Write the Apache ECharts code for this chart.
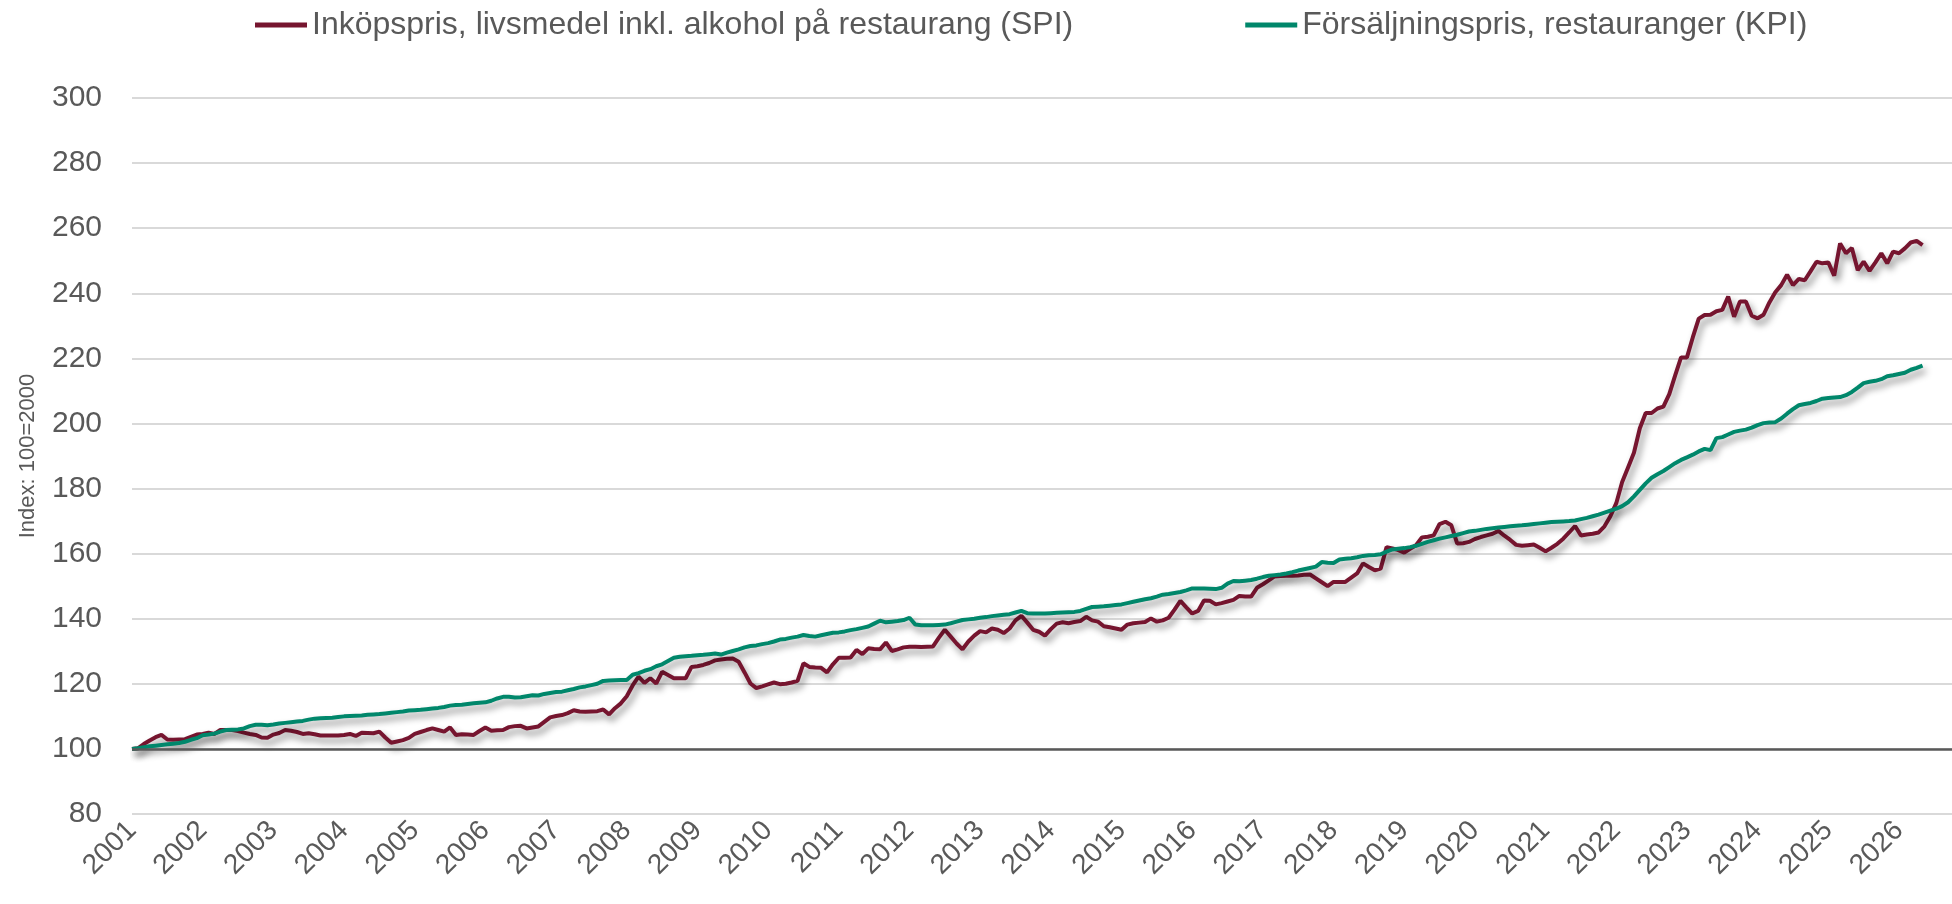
<!DOCTYPE html>
<html>
<head>
<meta charset="utf-8">
<title>Inköpspris och försäljningspris, restauranger</title>
<script src="https://cdn.jsdelivr.net/npm/echarts@6/dist/echarts.min.js"></script>
<style>
  html, body { margin: 0; padding: 0; background: #fff; }
  #chart { width: 1952px; height: 904px; }
</style>
</head>
<body>
<div id="chart"></div>
<script>
// månadsvärden från jan 2001, index 100 = 2000
const startYear = 2001;
const axisMonths = 310; // axeln går några månader förbi sista värdet

const spi = [
  100.0, 100.2, 101.5, 102.6, 103.6, 104.3, 102.9, 102.8, 102.9, 103.0,
  103.7, 104.4, 104.6, 105.0, 104.6, 105.8, 105.8, 105.8, 105.5, 105.0,
  104.6, 104.3, 103.5, 103.4, 104.4, 104.9, 105.8, 105.6, 105.2, 104.6,
  104.8, 104.5, 104.1, 104.1, 104.1, 104.1, 104.3, 104.6, 104.0, 105.0,
  104.9, 104.8, 105.3, 103.5, 101.9, 102.3, 102.7, 103.4, 104.6, 105.2,
  105.8, 106.3, 105.8, 105.3, 106.6, 104.3, 104.5, 104.4, 104.3, 105.5,
  106.6, 105.6, 105.7, 105.8, 106.7, 107.0, 107.1, 106.3, 106.6, 106.9,
  108.3, 109.7, 110.1, 110.4, 111.0, 111.9, 111.5, 111.4, 111.5, 111.6,
  112.1, 110.6, 112.5, 114.0, 116.2, 119.5, 122.2, 120.3, 121.7, 120.1,
  123.7, 122.7, 121.7, 121.7, 121.7, 125.2, 125.4, 125.8, 126.4, 127.2,
  127.5, 127.7, 127.8, 126.8, 123.5, 120.1, 118.7, 119.2, 119.8, 120.4,
  119.9, 120.0, 120.4, 120.9, 126.3, 125.2, 125.0, 124.9, 123.5, 126.0,
  128.0, 128.0, 128.1, 130.4, 129.1, 130.9, 130.7, 130.6, 132.7, 130.1,
  130.6, 131.2, 131.4, 131.4, 131.3, 131.4, 131.5, 134.2, 136.6, 134.5,
  132.4, 130.6, 133.0, 134.8, 136.2, 135.8, 137.0, 136.6, 135.6, 137.0,
  139.5, 140.9, 138.8, 136.6, 136.0, 134.8, 136.8, 138.5, 138.9, 138.6,
  139.0, 139.3, 140.6, 139.5, 139.1, 137.7, 137.4, 137.0, 136.6, 138.2,
  138.6, 138.8, 139.0, 140.1, 139.1, 139.5, 140.3, 142.8, 145.5, 143.5,
  141.6, 142.4, 145.6, 145.5, 144.4, 144.8, 145.3, 145.8, 147.0, 146.8,
  146.8, 149.5, 150.6, 151.8, 153.0, 153.1, 153.2, 153.2, 153.3, 153.5,
  153.6, 152.4, 151.2, 150.0, 151.3, 151.3, 151.3, 152.6, 153.9, 157.0,
  155.9, 154.9, 155.4, 162.0, 161.6, 161.1, 160.3, 161.5, 162.6, 165.0,
  165.2, 165.6, 169.1, 169.8, 168.7, 163.1, 163.2, 163.6, 164.5, 165.1,
  165.6, 166.1, 167.0, 165.5, 164.2, 162.7, 162.4, 162.6, 162.8, 161.8,
  160.7, 161.8, 163.0, 164.6, 166.5, 168.5, 165.6, 165.9, 166.1, 166.5,
  168.4, 171.5, 175.5, 182.0, 186.5, 191.0, 198.5, 203.2, 203.2, 204.6,
  205.2, 209.0, 214.8, 220.3, 220.3, 226.5, 232.2, 233.3, 233.4, 234.5,
  234.9, 239.0, 232.8, 237.5, 237.5, 233.1, 232.3, 233.4, 237.2, 240.3,
  242.5, 245.7, 242.5, 244.4, 244.0, 246.8, 249.7, 249.2, 249.5, 245.4,
  255.3, 252.3, 253.9, 247.1, 249.7, 246.9, 249.5, 252.3, 249.2, 252.8,
  252.3, 253.8, 255.6, 256.1, 254.8
];

const kpi = [
  100.0, 100.2, 100.5, 100.8, 101.0, 101.2, 101.4, 101.6, 101.8, 102.2,
  102.8, 103.3, 104.2, 104.4, 104.7, 105.3, 105.8, 105.9, 106.0, 106.3,
  107.0, 107.4, 107.4, 107.3, 107.5, 107.8, 108.0, 108.2, 108.4, 108.6,
  109.0, 109.3, 109.4, 109.5, 109.6, 109.8, 110.0, 110.1, 110.2, 110.3,
  110.5, 110.6, 110.7, 110.9, 111.1, 111.3, 111.5, 111.8, 111.9, 112.0,
  112.2, 112.4, 112.6, 112.9, 113.3, 113.5, 113.6, 113.8, 114.0, 114.2,
  114.3, 114.8, 115.5, 116.0, 116.0, 115.8, 115.9, 116.2, 116.5, 116.4,
  116.9, 117.2, 117.5, 117.6, 118.0, 118.4, 118.9, 119.2, 119.6, 120.0,
  120.9, 121.0, 121.1, 121.2, 121.2, 122.8, 123.3, 124.0, 124.5, 125.4,
  126.0, 127.0, 128.0, 128.3, 128.5, 128.6, 128.8, 128.9, 129.1, 129.3,
  129.0, 129.6, 130.1, 130.6, 131.2, 131.6, 131.8, 132.2, 132.5, 133.0,
  133.6, 133.8, 134.2, 134.5, 135.0, 134.7, 134.5, 134.9, 135.3, 135.7,
  135.8, 136.1, 136.5, 136.8, 137.2, 137.6, 138.5, 139.4, 138.9, 139.1,
  139.3, 139.6, 140.3, 138.2, 138.0, 138.0, 138.0, 138.1, 138.2, 138.6,
  139.1, 139.6, 139.8, 140.0, 140.3, 140.5, 140.8, 141.0, 141.2, 141.4,
  141.9, 142.4, 141.7, 141.6, 141.6, 141.6, 141.7, 141.8, 141.9, 142.0,
  142.1, 142.4, 143.0, 143.6, 143.7, 143.8, 144.0, 144.2, 144.4, 144.8,
  145.2, 145.6, 146.0, 146.3, 146.8, 147.4, 147.6, 147.9, 148.2, 148.7,
  149.3, 149.3, 149.3, 149.2, 149.1, 149.5, 150.8, 151.6, 151.5, 151.7,
  151.9, 152.3, 152.8, 153.2, 153.4, 153.6, 153.9, 154.3, 154.8, 155.2,
  155.6, 156.0, 157.4, 157.2, 157.1, 158.2, 158.4, 158.6, 158.9, 159.3,
  159.5, 159.6, 159.8, 160.6, 161.3, 161.5, 161.7, 162.0, 162.4, 163.0,
  163.6, 164.1, 164.6, 165.0, 165.4, 165.8, 166.3, 166.8, 167.0, 167.3,
  167.6, 167.8, 168.0, 168.2, 168.4, 168.6, 168.7, 168.9, 169.1, 169.3,
  169.5, 169.7, 169.8, 169.9, 170.0, 170.2, 170.6, 171.0, 171.5, 172.0,
  172.6, 173.2, 173.8, 174.6, 175.8, 177.6, 179.6, 181.6, 183.3, 184.4,
  185.4, 186.6, 187.8, 188.8, 189.6, 190.4, 191.4, 192.2, 191.8, 195.5,
  195.8, 196.6, 197.4, 197.8, 198.1, 198.7, 199.5, 200.1, 200.3, 200.4,
  201.5, 203.0, 204.4, 205.6, 206.0, 206.3, 206.9, 207.6, 207.8, 208.0,
  208.1, 208.7, 209.7, 211.0, 212.4, 212.8, 213.1, 213.6, 214.5, 214.8,
  215.2, 215.6, 216.5, 217.1, 217.8
];

const seriesNames = [
  'Inköpspris, livsmedel inkl. alkohol på restaurang (SPI)',
  'Försäljningspris, restauranger (KPI)'
];

const months = [];
for (let i = 0; i < axisMonths; i++) {
  const m = (i % 12) + 1;
  months.push((startYear + Math.floor(i / 12)) + '-' + (m < 10 ? '0' + m : m));
}

const textColor = '#595959';
const red = '#76152f';
const green = '#00876b';
const shadow = {
  shadowColor: 'rgba(0, 0, 0, 0.45)',
  shadowBlur: 7,
  shadowOffsetX: 3,
  shadowOffsetY: 5
};

const chart = echarts.init(document.getElementById('chart'));
chart.setOption({
  animation: false,
  textStyle: { fontFamily: '"Liberation Sans", Arial, sans-serif' },
  legend: {
    data: seriesNames,
    top: 4,
    left: 250,
    itemGap: 172,
    itemWidth: 52,
    itemHeight: 5,
    icon: 'rect',
    textStyle: { fontSize: 32, color: textColor }
  },
  grid: { left: 132, right: 0, top: 98, bottom: 90 },
  xAxis: {
    type: 'category',
    data: months,
    boundaryGap: false,
    axisLine: { show: false },
    axisTick: { show: false },
    axisLabel: {
      interval: (i) => i % 12 === 0,
      formatter: (v) => v.slice(0, 4),
      rotate: 45,
      fontSize: 28,
      color: textColor,
      margin: 12
    }
  },
  yAxis: {
    type: 'value',
    min: 80,
    max: 300,
    interval: 20,
    name: 'Index: 100=2000',
    nameLocation: 'middle',
    nameGap: 93,
    nameTextStyle: { fontSize: 22, color: textColor },
    axisLabel: { fontSize: 30, color: textColor, margin: 30 },
    splitLine: { lineStyle: { color: '#d9d9d9', width: 2 } }
  },
  series: [
    {
      name: 'bas',
      type: 'line',
      data: [],
      z: 1,
      silent: true,
      markLine: {
        symbol: 'none',
        silent: true,
        label: { show: false },
        lineStyle: { color: '#595959', width: 2.5, type: 'solid' },
        data: [{ yAxis: 100 }]
      }
    },
    {
      name: seriesNames[0],
      type: 'line',
      data: spi,
      symbol: 'none',
      z: 3,
      itemStyle: { color: red },
      lineStyle: Object.assign({ color: red, width: 4 }, shadow)
    },
    {
      name: seriesNames[1],
      type: 'line',
      data: kpi,
      symbol: 'none',
      z: 3,
      itemStyle: { color: green },
      lineStyle: Object.assign({ color: green, width: 4 }, shadow)
    }
  ]
});
</script>
</body>
</html>
